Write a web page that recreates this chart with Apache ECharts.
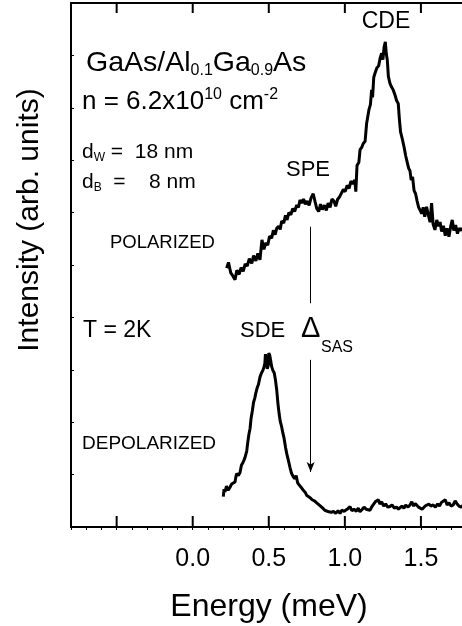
<!DOCTYPE html>
<html>
<head>
<meta charset="utf-8">
<script src="https://cdn.jsdelivr.net/npm/echarts@6/dist/echarts.min.js"></script>
<style>
html,body{margin:0;padding:0;background:#fff;}
#chart{width:462px;height:626px;}
</style>
</head>
<body>
<div id="chart"></div>
<script>
// Energy (meV) and intensity (arb. units)
var polE = [0.223,0.235,0.250,0.262,0.278,0.290,0.305,0.318,0.332,0.345,0.358,0.372,0.388,0.400,0.415,0.428,0.442,0.455,0.468,0.480,0.493,0.505,0.519,0.530,0.542,0.552,0.565,0.575,0.585,0.598,0.610,0.620,0.632,0.645,0.658,0.670,0.683,0.695,0.705,0.716,0.728,0.740,0.752,0.765,0.778,0.792,0.805,0.815,0.828,0.840,0.852,0.866,0.878,0.890,0.903,0.915,0.928,0.940,0.952,0.965,0.978,0.990,1.002,1.015,1.028,1.040,1.052,1.066,1.072,1.080,1.092,1.100,1.112,1.121,1.133,1.143,1.150,1.158,1.168,1.176,1.182,1.190,1.198,1.210,1.222,1.232,1.242,1.250,1.258,1.266,1.272,1.279,1.286,1.296,1.306,1.318,1.330,1.340,1.351,1.358,1.366,1.378,1.390,1.400,1.410,1.420,1.428,1.436,1.445,1.455,1.465,1.475,1.485,1.494,1.505,1.515,1.525,1.537,1.548,1.560,1.570,1.580,1.592,1.604,1.616,1.626,1.636,1.648,1.660,1.672,1.684,1.696,1.706,1.716,1.728,1.740,1.752,1.765,1.780];
var polI = [4.94,5.05,4.85,4.80,4.72,4.90,4.82,4.95,4.88,5.02,4.98,5.12,5.03,5.18,5.08,5.22,5.10,5.48,5.30,5.42,5.38,5.55,5.51,5.66,5.58,5.70,5.74,5.68,5.84,5.80,5.95,5.86,6.00,5.96,6.08,6.02,6.14,6.10,6.24,6.18,6.26,6.16,6.22,6.14,6.28,6.36,6.20,6.08,6.02,6.16,6.06,6.14,6.04,6.18,6.10,6.26,6.22,6.12,6.25,6.30,6.28,6.44,6.40,6.52,6.46,6.60,6.55,6.62,6.40,6.90,6.96,7.20,7.25,7.32,7.36,7.70,7.72,7.96,8.06,8.34,8.20,8.58,8.66,8.76,8.80,8.95,9.04,8.92,9.16,9.26,9.04,8.91,8.60,8.47,8.40,8.34,8.24,8.14,8.08,7.80,7.54,7.40,7.24,7.08,6.96,6.84,6.80,6.62,6.68,6.42,6.36,6.22,6.10,6.05,5.98,6.10,5.92,6.11,5.96,5.82,6.18,5.78,5.67,5.86,5.74,5.82,5.64,5.75,5.56,5.70,5.54,5.74,5.86,5.66,5.76,5.60,5.70,5.66,5.72];
var depE = [0.201,0.206,0.212,0.222,0.233,0.245,0.256,0.268,0.278,0.284,0.289,0.300,0.311,0.320,0.332,0.343,0.355,0.362,0.370,0.377,0.383,0.392,0.400,0.408,0.415,0.424,0.432,0.442,0.452,0.460,0.468,0.474,0.478,0.484,0.490,0.496,0.500,0.506,0.512,0.519,0.528,0.536,0.544,0.552,0.560,0.568,0.575,0.584,0.592,0.600,0.610,0.618,0.628,0.639,0.650,0.661,0.672,0.680,0.690,0.700,0.712,0.727,0.740,0.750,0.760,0.772,0.785,0.800,0.815,0.828,0.840,0.855,0.868,0.880,0.895,0.910,0.925,0.940,0.955,0.968,0.980,0.995,1.008,1.020,1.034,1.046,1.060,1.075,1.088,1.099,1.112,1.126,1.140,1.152,1.165,1.180,1.192,1.200,1.209,1.220,1.230,1.242,1.255,1.268,1.282,1.296,1.310,1.325,1.340,1.352,1.362,1.375,1.388,1.400,1.415,1.428,1.440,1.452,1.462,1.472,1.484,1.496,1.508,1.515,1.528,1.540,1.552,1.565,1.581,1.595,1.610,1.622,1.635,1.647,1.660,1.672,1.685,1.698,1.712,1.725,1.738,1.750,1.765,1.780];
var depI = [0.58,0.72,0.67,0.78,0.70,0.76,0.82,0.80,0.86,0.96,1.02,0.98,1.04,1.18,1.24,1.32,1.45,1.62,1.78,1.88,2.06,2.22,2.38,2.46,2.56,2.66,2.72,2.86,2.94,2.98,3.05,3.12,3.30,3.32,3.02,3.08,3.32,3.28,3.18,3.06,2.98,2.94,2.80,2.62,2.36,2.16,2.02,1.92,1.80,1.70,1.52,1.40,1.28,1.14,1.02,0.96,0.92,0.98,0.84,0.80,0.76,0.70,0.66,0.60,0.62,0.56,0.52,0.50,0.46,0.44,0.40,0.36,0.32,0.30,0.29,0.28,0.30,0.26,0.31,0.26,0.32,0.30,0.27,0.35,0.39,0.31,0.34,0.30,0.36,0.29,0.33,0.38,0.34,0.36,0.32,0.40,0.38,0.48,0.45,0.52,0.44,0.48,0.40,0.44,0.38,0.39,0.42,0.36,0.38,0.34,0.32,0.40,0.36,0.42,0.38,0.42,0.48,0.40,0.45,0.45,0.38,0.40,0.34,0.36,0.40,0.38,0.44,0.40,0.42,0.38,0.44,0.40,0.47,0.48,0.52,0.42,0.46,0.40,0.42,0.50,0.44,0.40,0.38,0.42];

// Δ_SAS marker: energy and intensity ends of the two segments
var sasE = 0.775;
var sasUpper = [5.73, 4.27];
var sasLower = [3.19, 1.05];

// Axis range, major ticks and tick labels
var xMin = -0.8, xMax = 2.0, yMin = 0, yMax = 10;
var xMajorTicks = [-0.5, 0.0, 0.5, 1.0, 1.5];
var xLabelTicks = ['0.0', '0.5', '1.0', '1.5'];

function pairs(xs, ys) { return xs.map(function (x, i) { return [x, ys[i]]; }); }

var FONT = 'Liberation Sans, Arial, Helvetica, sans-serif';
function T(x, y, text, fs, extra) {
  var st = { text: text, fontSize: fs, fontFamily: FONT, fill: '#000', align: 'left', verticalAlign: 'middle' };
  for (var k in extra) st[k] = extra[k];
  return { type: 'text', x: x, y: y, silent: true, z: 100, style: st };
}

var chart = echarts.init(document.getElementById('chart'), null, { renderer: 'canvas' });
var texts = [
  T(30, 220, 'Intensity (arb. units)', 30, { align: 'center', verticalAlign: 'middle' }),
  T(269, 607, 'Energy (meV)', 32, { align: 'center' }),
  T(386, 22, 'CDE', 23, { align: 'center' }),
  T(86, 63, 'GaAs/Al{s|0.1}Ga{s|0.9}As', 28.5, { lineHeight: 32,
    rich: { s: { fontSize: 16, fontFamily: FONT, fill: '#000', lineHeight: 12, verticalAlign: 'bottom' } } }),
  T(82, 102, 'n = 6.2x10{p|10} cm{p|-2}', 26, { lineHeight: 30,
    rich: { p: { fontSize: 16, fontFamily: FONT, fill: '#000', lineHeight: 12, verticalAlign: 'top' } } }),
  T(82, 152, 'd{s|W} =  18 nm', 21, { lineHeight: 24,
    rich: { s: { fontSize: 12, fontFamily: FONT, fill: '#000', lineHeight: 6, verticalAlign: 'bottom' } } }),
  T(82, 182, 'd{s|B}  =    8 nm', 21, { lineHeight: 24,
    rich: { s: { fontSize: 12, fontFamily: FONT, fill: '#000', lineHeight: 6, verticalAlign: 'bottom' } } }),
  T(308, 170, 'SPE', 22, { align: 'center' }),
  T(110, 243, 'POLARIZED', 18.5),
  T(83, 331, 'T = 2K', 23),
  T(240, 331, 'SDE', 22),
  T(301, 329, '\u0394', 29),
  T(321, 348, 'SAS', 16),
  T(82, 444, 'DEPOLARIZED', 19)
];
texts[0].rotation = Math.PI / 2;

var option = {
  animation: false,
  backgroundColor: '#fff',
  grid: { left: 71, top: 3, width: 426, height: 524, containLabel: false, outerBoundsMode: 'none' },
  xAxis: [
    {
      type: 'value', min: xMin, max: xMax, position: 'bottom',
      axisLine: { show: true, onZero: false, lineStyle: { color: '#000', width: 2 } },
      axisTick: { show: false },
      axisLabel: { show: true, margin: 20, fontSize: 25, fontFamily: FONT, color: '#000',
        showMinLabel: false, showMaxLabel: false,
        formatter: function (v) { var s = v.toFixed(1); return xLabelTicks.indexOf(s) >= 0 ? s : ''; } },
      splitLine: { show: false }
    },
    {
      type: 'value', min: xMin, max: xMax, interval: 0.1, position: 'bottom',
      axisLine: { show: false, onZero: false },
      axisTick: { show: true, inside: false, length: 3, lineStyle: { color: '#000', width: 1 } },
      axisLabel: { show: false },
      splitLine: { show: false }
    },
    {
      type: 'value', min: xMin, max: xMax, position: 'top',
      axisLine: { show: true, onZero: false, lineStyle: { color: '#000', width: 2 } },
      axisTick: { show: false },
      axisLabel: { show: false },
      splitLine: { show: false }
    }
  ],
  yAxis: {
    type: 'value', min: yMin, max: yMax, interval: 1, position: 'left',
    axisLine: { show: true, onZero: false, lineStyle: { color: '#000', width: 2 } },
    axisTick: { show: true, inside: true, length: 3, lineStyle: { color: '#000', width: 1 } },
    axisLabel: { show: false },
    splitLine: { show: false }
  },
  series: [
    {
      name: 'POLARIZED', type: 'line', data: pairs(polE, polI), showSymbol: false, symbol: 'none',
      lineStyle: { color: '#000', width: 3 }, clip: true,
      markLine: {
        silent: true, animation: false, label: { show: false },
        lineStyle: { color: '#000', width: 1, type: 'solid' },
        symbolSize: [6, 10],
        data: [
          [{ coord: [sasE, sasUpper[0]], symbol: 'none' }, { coord: [sasE, sasUpper[1]], symbol: 'none' }],
          [{ coord: [sasE, sasLower[0]], symbol: 'none' }, { coord: [sasE, sasLower[1]], symbol: 'arrow' }]
        ]
      }
    },
    {
      name: 'DEPOLARIZED', type: 'line', data: pairs(depE, depI), showSymbol: false, symbol: 'none',
      lineStyle: { color: '#000', width: 3 }, clip: true
    }
  ],
  graphic: texts
};
chart.setOption(option);

// inward major tick marks on the bottom and top frame lines, placed through the axis scale
var tickEls = [];
xMajorTicks.forEach(function (v, i) {
  var pb = chart.convertToPixel({ xAxisIndex: 0, yAxisIndex: 0 }, [v, yMin]);
  var pt = chart.convertToPixel({ xAxisIndex: 0, yAxisIndex: 0 }, [v, yMax]);
  tickEls.push({ type: 'line', id: 'tb' + i, silent: true, z: 50,
    shape: { x1: pb[0], y1: pb[1], x2: pb[0], y2: pb[1] - 11 }, style: { stroke: '#000', lineWidth: 2 } });
  tickEls.push({ type: 'line', id: 'tt' + i, silent: true, z: 50,
    shape: { x1: pt[0], y1: pt[1], x2: pt[0], y2: pt[1] + 10 }, style: { stroke: '#000', lineWidth: 2 } });
});
chart.setOption({ graphic: texts.concat(tickEls) });
</script>
</body>
</html>
